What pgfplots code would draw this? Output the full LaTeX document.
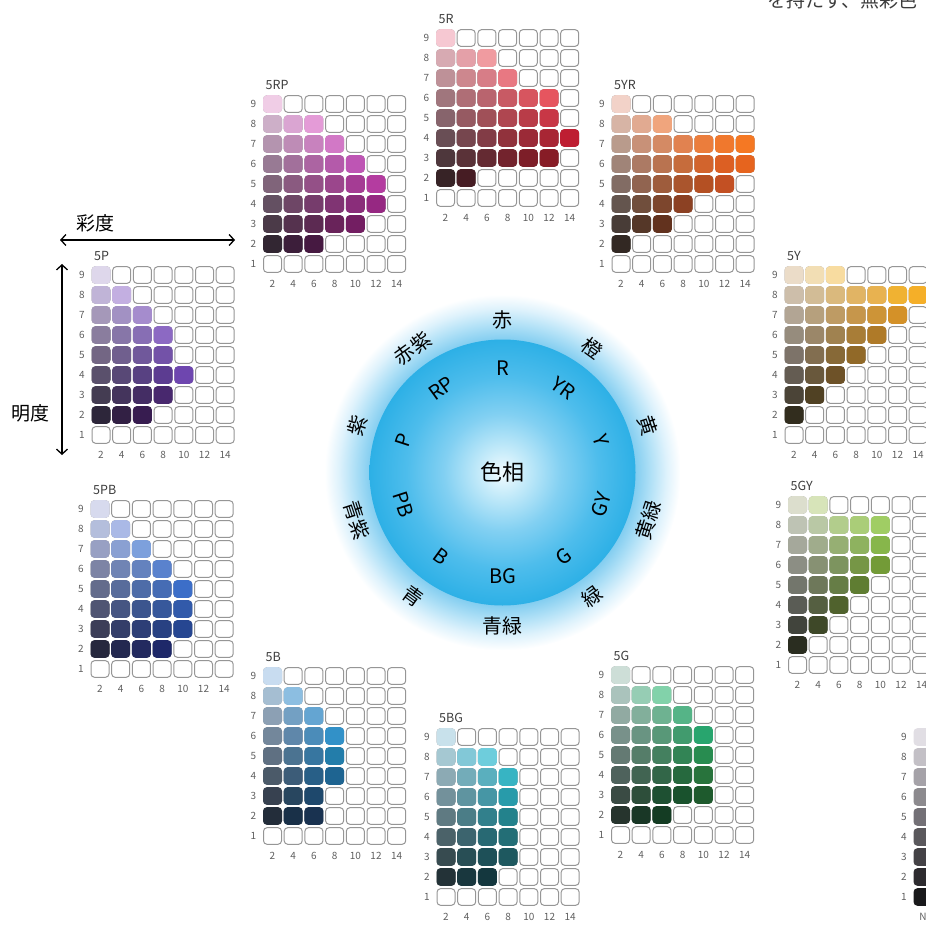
\documentclass[border=0pt]{standalone}
\usepackage{pgfplots}
\pgfplotsset{compat=1.18}
\usepackage{pgfplotstable}
\usetikzlibrary{arrows.meta}
\usepackage{fontspec}
\setmainfont{Noto Sans CJK JP}

\definecolor{tickgray}{RGB}{95,95,95}
\definecolor{labgray}{RGB}{60,60,60}
\definecolor{cellgray}{RGB}{150,150,150}
\definecolor{d0}{RGB}{242,251,255}
\definecolor{d1}{RGB}{200,236,250}
\definecolor{d2}{RGB}{130,208,242}
\definecolor{d3}{RGB}{78,189,236}
\definecolor{d4}{RGB}{45,176,230}
\definecolor{h0}{RGB}{130,205,240}
\definecolor{h1}{RGB}{180,226,247}
\definecolor{h2}{RGB}{222,242,252}
\pgfdeclareradialshading{disk}{\pgfpointorigin}{color(0bp)=(d0); color(4bp)=(d1); color(11bp)=(d2); color(18bp)=(d3); color(25bp)=(d4); color(50bp)=(d4)}
\pgfdeclareradialshading{halo}{\pgfpointorigin}{color(0bp)=(h0); color(18.6bp)=(h0); color(21bp)=(h1); color(23bp)=(h2); color(25bp)=(white); color(50bp)=(white)}

% rounded cell, 18 x 16.6 with 3.5pt corners
\pgfdeclareplotmark{cell}{%
  \pgfpathmoveto{\pgfpoint{-5.5pt}{-8.3pt}}%
  \pgfpathlineto{\pgfpoint{5.5pt}{-8.3pt}}%
  \pgfpatharc{-90}{0}{3.5pt}%
  \pgfpathlineto{\pgfpoint{9pt}{4.8pt}}%
  \pgfpatharc{0}{90}{3.5pt}%
  \pgfpathlineto{\pgfpoint{-5.5pt}{8.3pt}}%
  \pgfpatharc{90}{180}{3.5pt}%
  \pgfpathlineto{\pgfpoint{-9pt}{-4.8pt}}%
  \pgfpatharc{180}{270}{3.5pt}%
  \pgfpathclose
  \pgfusepathqfillstroke}

\pgfplotsset{
  panel/.style={
    x=10.35pt, y=20pt,
    xmin=1, xmax=15, ymin=0.5, ymax=9.5,
    axis line style={draw=none},
    major tick length=0pt,
    xtick={2,4,...,14}, ytick={1,...,9},
    tick label style={font=\fontsize{10}{10}\selectfont, text=tickgray},
    xticklabel style={yshift=-3pt},
    yticklabel style={xshift=-2.5pt},
    /pgf/number format/assume math mode=true,
    clip=false, anchor=north west,
    title style={at={(0,1)}, anchor=south west, font=\fontsize{12.5}{12.5}\selectfont, text=labgray, xshift=0pt, yshift=-5pt},
  },
  emptycell/.style={only marks, mark=cell, mark options={fill=white, draw=cellgray, line width=1pt}},
  colcell/.style={only marks, mark=cell, scatter,
    visualization depends on={\thisrow{r}/255 \as \cR},
    visualization depends on={\thisrow{g}/255 \as \cG},
    visualization depends on={\thisrow{b}/255 \as \cB},
    scatter/@pre marker code/.code={\pgfscope\definecolor{mk}{rgb}{\cR,\cG,\cB}\pgfsetfillcolor{mk}\pgfsetstrokecolor{mk}},
    scatter/@post marker code/.code={\endpgfscope},
    mark options={line width=1pt}},
}

\pgfplotstableread[row sep=\\]{
x y\\
2 1\\ 4 1\\ 6 1\\ 8 1\\ 10 1\\ 12 1\\ 14 1\\
2 2\\ 4 2\\ 6 2\\ 8 2\\ 10 2\\ 12 2\\ 14 2\\
2 3\\ 4 3\\ 6 3\\ 8 3\\ 10 3\\ 12 3\\ 14 3\\
2 4\\ 4 4\\ 6 4\\ 8 4\\ 10 4\\ 12 4\\ 14 4\\
2 5\\ 4 5\\ 6 5\\ 8 5\\ 10 5\\ 12 5\\ 14 5\\
2 6\\ 4 6\\ 6 6\\ 8 6\\ 10 6\\ 12 6\\ 14 6\\
2 7\\ 4 7\\ 6 7\\ 8 7\\ 10 7\\ 12 7\\ 14 7\\
2 8\\ 4 8\\ 6 8\\ 8 8\\ 10 8\\ 12 8\\ 14 8\\
2 9\\ 4 9\\ 6 9\\ 8 9\\ 10 9\\ 12 9\\ 14 9\\
}\gridtab

% 5R
\pgfplotstableread[row sep=\\]{
x y r g b\\
2 9 246 200 210\\
2 8 215 170 178\\ 4 8 228 160 168\\ 6 8 240 155 160\\
2 7 190 145 152\\ 4 7 205 135 142\\ 6 7 215 125 135\\ 8 7 232 120 130\\
2 6 160 118 125\\ 4 6 175 110 118\\ 6 6 185 100 110\\ 8 6 200 90 100\\ 10 6 215 85 95\\ 12 6 230 85 95\\
2 5 135 100 108\\ 4 5 150 90 98\\ 6 5 160 80 88\\ 8 5 175 70 80\\ 10 5 185 60 72\\ 12 5 200 55 70\\
2 4 105 78 85\\ 4 4 118 70 78\\ 6 4 130 60 70\\ 8 4 145 50 60\\ 10 4 155 42 55\\ 12 4 168 38 52\\ 14 4 190 30 50\\
2 3 78 55 60\\ 4 3 90 50 56\\ 6 3 100 42 50\\ 8 3 115 35 45\\ 10 3 125 30 40\\ 12 3 135 28 38\\
2 2 55 35 38\\ 4 2 70 28 35\\
}\tabR

% 5YR
\pgfplotstableread[row sep=\\]{
x y r g b\\
2 9 242 210 200\\
2 8 215 180 165\\ 4 8 225 170 145\\ 6 8 240 165 125\\
2 7 185 155 140\\ 4 7 200 145 120\\ 6 7 212 138 100\\ 8 7 225 130 80\\ 10 7 235 125 60\\ 12 7 240 120 45\\ 14 7 245 120 35\\
2 6 160 132 120\\ 4 6 172 122 100\\ 6 6 185 115 80\\ 8 6 198 108 60\\ 10 6 210 100 45\\ 12 6 220 95 35\\ 14 6 230 100 30\\
2 5 130 108 100\\ 4 5 145 100 80\\ 6 5 158 92 60\\ 8 5 170 85 45\\ 10 5 180 80 35\\ 12 5 195 80 35\\
2 4 100 85 78\\ 4 4 112 78 60\\ 6 4 125 70 45\\ 8 4 140 65 35\\
2 3 72 60 55\\ 4 3 85 55 40\\ 6 3 98 50 30\\
2 2 50 40 35\\
}\tabYR

% 5Y
\pgfplotstableread[row sep=\\]{
x y r g b\\
2 9 235 220 200\\ 4 9 242 222 180\\ 6 9 248 220 160\\
2 8 205 190 170\\ 4 8 210 188 150\\ 6 8 218 185 125\\ 8 8 225 180 100\\ 10 8 232 178 80\\ 12 8 240 178 50\\ 14 8 245 175 40\\
2 7 178 165 148\\ 4 7 182 160 125\\ 6 7 190 155 100\\ 8 7 198 150 75\\ 10 7 205 148 55\\ 12 7 212 145 40\\
2 6 150 140 125\\ 4 6 155 135 105\\ 6 6 160 130 80\\ 8 6 168 125 55\\ 10 6 175 122 40\\
2 5 125 115 105\\ 4 5 130 110 80\\ 6 5 135 105 55\\ 8 5 145 105 40\\
2 4 100 92 82\\ 4 4 105 88 60\\ 6 4 110 82 40\\
2 3 75 68 55\\ 4 3 80 65 35\\
2 2 50 45 30\\
}\tabY

% 5GY
\pgfplotstableread[row sep=\\]{
x y r g b\\
2 9 220 222 205\\ 4 9 215 228 185\\
2 8 190 195 180\\ 4 8 185 200 165\\ 6 8 178 205 140\\ 8 8 170 205 120\\ 10 8 160 205 100\\
2 7 165 168 155\\ 4 7 160 172 140\\ 6 7 150 175 115\\ 8 7 142 178 95\\ 10 7 135 182 75\\
2 6 140 142 132\\ 4 6 135 145 115\\ 6 6 125 148 95\\ 8 6 118 150 70\\ 10 6 115 155 55\\
2 5 115 118 108\\ 4 5 110 120 90\\ 6 5 102 125 70\\ 8 5 95 125 50\\
2 4 90 92 85\\ 4 4 85 95 65\\ 6 4 80 98 45\\
2 3 65 68 60\\ 4 3 62 72 40\\
2 2 42 45 32\\
}\tabGY

% 5G
\pgfplotstableread[row sep=\\]{
x y r g b\\
2 9 205 222 215\\
2 8 170 195 188\\ 4 8 150 205 180\\ 6 8 130 210 170\\
2 7 145 170 162\\ 4 7 130 175 155\\ 6 7 110 178 145\\ 8 7 85 180 135\\
2 6 120 145 138\\ 4 6 105 148 130\\ 6 6 88 152 120\\ 8 6 65 155 110\\ 10 6 40 165 110\\
2 5 100 122 115\\ 4 5 85 125 105\\ 6 5 68 128 95\\ 8 5 50 132 85\\ 10 5 40 140 80\\
2 4 78 98 92\\ 4 4 65 100 82\\ 6 4 50 102 72\\ 8 4 38 105 62\\ 10 4 40 115 60\\
2 3 58 75 68\\ 4 3 45 78 58\\ 6 3 30 80 50\\ 8 3 25 82 45\\ 10 3 30 90 45\\
2 2 38 52 45\\ 4 2 25 55 38\\ 6 2 20 60 35\\
}\tabG

% 5BG
\pgfplotstableread[row sep=\\]{
x y r g b\\
2 9 200 225 235\\
2 8 165 200 210\\ 4 8 130 200 215\\ 6 8 110 205 220\\
2 7 140 170 180\\ 4 7 115 172 185\\ 6 7 90 175 190\\ 8 7 55 180 195\\
2 6 115 145 155\\ 4 6 95 148 160\\ 6 6 70 150 165\\ 8 6 40 155 170\\
2 5 95 122 130\\ 4 5 75 125 135\\ 6 5 50 128 140\\ 8 5 35 130 140\\
2 4 75 98 105\\ 4 4 60 100 110\\ 6 4 40 105 115\\ 8 4 35 110 118\\
2 3 55 75 80\\ 4 3 40 78 85\\ 6 3 30 80 88\\ 8 3 30 88 95\\
2 2 35 50 55\\ 4 2 25 55 62\\ 6 2 20 55 62\\
}\tabBG

% 5B
\pgfplotstableread[row sep=\\]{
x y r g b\\
2 9 200 220 240\\
2 8 165 190 210\\ 4 8 140 190 225\\
2 7 140 160 180\\ 4 7 115 160 195\\ 6 7 100 165 210\\
2 6 115 135 155\\ 4 6 95 135 170\\ 6 6 75 140 185\\ 8 6 50 145 200\\
2 5 95 112 130\\ 4 5 75 115 145\\ 6 5 55 118 160\\ 8 5 35 125 170\\
2 4 75 90 105\\ 4 4 60 92 120\\ 6 4 40 95 135\\ 8 4 30 100 145\\
2 3 55 65 80\\ 4 3 40 70 95\\ 6 3 30 72 108\\
2 2 35 45 58\\ 4 2 25 48 72\\ 6 2 25 50 80\\
}\tabB

% 5PB
\pgfplotstableread[row sep=\\]{
x y r g b\\
2 9 215 218 238\\
2 8 180 190 220\\ 4 8 170 185 230\\
2 7 152 160 195\\ 4 7 138 160 210\\ 6 7 125 160 220\\
2 6 125 132 165\\ 4 6 112 132 180\\ 6 6 100 130 190\\ 8 6 90 130 205\\
2 5 100 108 140\\ 4 5 88 108 155\\ 6 5 78 108 168\\ 8 5 70 108 180\\ 10 5 60 110 200\\
2 4 80 85 115\\ 4 4 70 85 130\\ 6 4 60 85 142\\ 8 4 55 88 155\\ 10 4 50 90 170\\
2 3 60 62 88\\ 4 3 52 62 105\\ 6 3 45 62 118\\ 8 3 40 65 130\\ 10 3 38 70 145\\
2 2 38 40 62\\ 4 2 35 40 80\\ 6 2 35 42 95\\ 8 2 30 40 105\\
}\tabPB

% 5P
\pgfplotstableread[row sep=\\]{
x y r g b\\
2 9 222 215 235\\
2 8 192 180 215\\ 4 8 195 175 225\\
2 7 165 152 185\\ 4 7 162 145 195\\ 6 7 165 140 205\\
2 6 138 125 158\\ 4 6 135 118 168\\ 6 6 135 110 180\\ 8 6 140 105 195\\
2 5 115 102 132\\ 4 5 112 95 142\\ 6 5 112 88 155\\ 8 5 115 82 168\\
2 4 90 80 108\\ 4 4 88 72 118\\ 6 4 88 65 130\\ 8 4 92 60 145\\ 10 4 110 70 175\\
2 3 68 60 82\\ 4 3 68 52 92\\ 6 3 68 45 100\\ 8 3 72 40 110\\
2 2 45 38 58\\ 4 2 50 32 68\\ 6 2 55 28 80\\
}\tabP

% 5RP
\pgfplotstableread[row sep=\\]{
x y r g b\\
2 9 240 205 230\\
2 8 205 175 200\\ 4 8 218 165 210\\ 6 8 228 155 215\\
2 7 180 148 175\\ 4 7 190 140 182\\ 6 7 200 130 190\\ 8 7 210 120 198\\
2 6 152 122 148\\ 4 6 162 112 155\\ 6 6 172 100 162\\ 8 6 180 90 170\\ 10 6 190 85 180\\
2 5 128 100 122\\ 4 5 138 90 128\\ 6 5 148 80 135\\ 8 5 155 70 140\\ 10 5 165 60 148\\ 12 5 180 60 160\\
2 4 100 80 98\\ 4 4 110 70 102\\ 6 4 118 60 108\\ 8 4 128 52 115\\ 10 4 138 45 122\\ 12 4 150 40 130\\
2 3 75 58 72\\ 4 3 85 50 78\\ 6 3 92 42 82\\ 8 3 105 35 90\\ 10 3 115 30 98\\
2 2 50 38 50\\ 4 2 60 30 58\\ 6 2 70 25 65\\
}\tabRP

% N
\pgfplotstableread[row sep=\\]{
x y r g b\\
0 9 225 222 228\\ 0 8 195 192 198\\ 0 7 165 162 168\\ 0 6 140 138 142\\ 0 5 115 112 118\\
0 4 90 88 92\\ 0 3 68 66 70\\ 0 2 45 43 47\\ 0 1 25 25 27\\
}\tabN

\newcommand\panel[4]{%
\begin{axis}[panel, at={(#1pt-10.35pt,-#2pt+10pt)}, title={#3}]
\addplot[emptycell] table {\gridtab};
\addplot[colcell] table {#4};
\end{axis}}

\begin{document}
\begin{tikzpicture}
\useasboundingbox (0pt,0pt) rectangle (926pt,-925pt);

% hue circle
\shade[shading=halo] (502.5pt,-472.5pt) circle (178pt);
\shade[shading=disk] (502.5pt,-472.5pt) circle (133pt);
\begin{scope}[shift={(502.5pt,-472.5pt)}, font=\fontsize{20}{20}\selectfont, every node/.style={inner sep=0pt}]
\node at (0,0) {\fontsize{22}{22}\selectfont 色相};
\foreach \t/\r/\s in {0/0/R, 36/-36/YR, 72/-72/Y, 108/72/GY, 144/36/G, 180/0/BG, 216/-36/B, 252/-72/PB, 288/72/P, 324/36/RP}
  \node[rotate=\r] at ({90-\t}:104pt) {\s};
\foreach \t/\r/\s in {0/0/赤, 36/-36/橙, 72/-72/黄, 108/72/黄緑, 144/36/緑, 180/0/青緑, 216/-36/青, 252/-72/青紫, 288/72/紫, 324/36/赤紫}
  \node[rotate=\r] at ({90-\t}:153pt) {\s};
\end{scope}

% axis annotations
\node[font=\fontsize{19}{19}\selectfont] at (95pt,-223pt) {彩度};
\draw[line width=1.3pt, {Straight Barb[length=5pt,width=11pt]}-{Straight Barb[length=5pt,width=11pt]}] (60pt,-240pt) -- (235pt,-240pt);
\node[font=\fontsize{19}{19}\selectfont] at (31pt,-413pt) {明度};
\draw[line width=1.3pt, {Straight Barb[length=5pt,width=11pt]}-{Straight Barb[length=5pt,width=11pt]}] (62pt,-264pt) -- (62pt,-455pt);
\node[anchor=west, font=\fontsize{19}{19}\selectfont, text=labgray, inner sep=0pt] at (767pt,0pt) {を持たず、無彩色};

% Munsell pages
\panel{445.5}{38}{5R}{\tabR}
\panel{621}{104}{5YR}{\tabYR}
\panel{272.5}{104}{5RP}{\tabRP}
\panel{101}{275}{5P}{\tabP}
\panel{794}{275}{5Y}{\tabY}
\panel{797.5}{505}{5GY}{\tabGY}
\panel{620.5}{675}{5G}{\tabG}
\panel{446}{737}{5BG}{\tabBG}
\panel{272.5}{676}{5B}{\tabB}
\panel{100}{509}{5PB}{\tabPB}

\begin{axis}[panel, at={(923pt-10.35pt,-737pt+10pt)}, xmin=-1, xmax=1, xtick={0}, xticklabels={N}]
\addplot[colcell] table {\tabN};
\end{axis}
\end{tikzpicture}
\end{document}
